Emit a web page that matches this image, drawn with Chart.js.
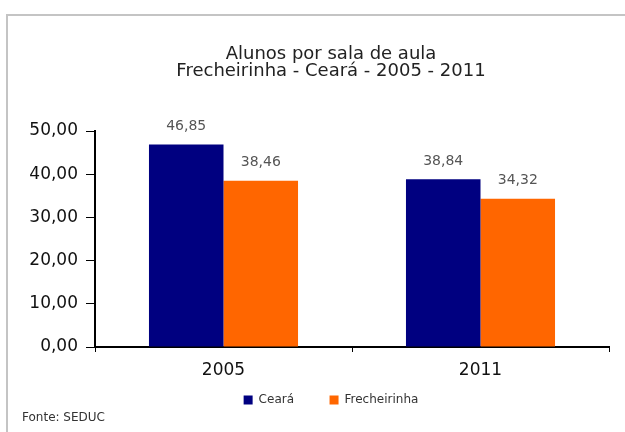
<!DOCTYPE html>
<html>
<head>
<meta charset="utf-8">
<script src="https://cdn.jsdelivr.net/npm/chart.js@4/dist/chart.umd.min.js"></script>
<style>
  html, body { margin: 0; padding: 0; background: #fff; overflow: hidden; }
  #wrap { position: relative; width: 625px; height: 432px; overflow: hidden; }
  #frame { position: absolute; left: 6px; top: 14px; width: 640px; height: 440px;
           border-left: 2px solid #c4c4c4; border-top: 2px solid #c4c4c4; }
  #chartBox { position: absolute; left: 0; top: 0; width: 636px; height: 432px; }
  #fonte { position: absolute; left: 22px; top: 410px; font: 12px "DejaVu Sans"; color: #333; }
</style>
</head>
<body>
<div id="wrap">
  <div id="frame"></div>
  <div id="chartBox"><canvas id="myChart"></canvas></div>
  <div id="fonte">Fonte: SEDUC</div>
</div>
<script>
const categories = ['2005', '2011'];
const ceara = [46.85, 38.84];
const frecheirinha = [38.46, 34.32];
const yTicks = [0, 10, 20, 30, 40, 50];

const fmt = v => v.toFixed(2).replace('.', ',');

// value labels above each bar
const barLabels = {
  id: 'barLabels',
  afterDatasetsDraw(chart) {
    const c = chart.ctx;
    c.save();
    c.font = '14px "DejaVu Sans"';
    c.fillStyle = '#555';
    c.textAlign = 'center';
    c.textBaseline = 'middle';
    chart.data.datasets.forEach((ds, i) => {
      chart.getDatasetMeta(i).data.forEach((bar, j) => {
        c.fillText(fmt(ds.data[j]), bar.x, bar.y - 18);
      });
    });
    c.restore();
  }
};

const ctx = document.getElementById('myChart');

new Chart(ctx, {
  type: 'bar',
  data: {
    labels: categories,
    datasets: [
      {
        label: 'Ceará',
        data: ceara,
        backgroundColor: '#000080',
        barPercentage: 1,
        categoryPercentage: 0.58
      },
      {
        label: 'Frecheirinha',
        data: frecheirinha,
        backgroundColor: '#FF6600',
        barPercentage: 1,
        categoryPercentage: 0.58
      }
    ]
  },
  options: {
    responsive: true,
    maintainAspectRatio: false,
    animation: false,
    layout: { padding: { left: 26, right: 0, top: 0, bottom: 16 } },
    scales: {
      x: {
        grid: { drawOnChartArea: false, tickLength: 5, color: '#000', lineWidth: 1 },
        border: { color: '#000', width: 2 },
        ticks: { color: '#111', padding: 10, font: { family: 'DejaVu Sans', size: 17, lineHeight: 1 } }
      },
      y: {
        min: 0,
        max: 50,
        afterBuildTicks: s => { s.ticks = yTicks.map(v => ({ value: v })); },
        afterFit: s => { s.width = 69; },
        grid: { drawOnChartArea: false, tickLength: 9, color: '#000', lineWidth: 1 },
        border: { color: '#000', width: 2 },
        ticks: {
          color: '#111',
          padding: 8,
          font: { family: 'DejaVu Sans', size: 17 },
          callback: v => fmt(v)
        }
      },
      // empty spacer on the right so title and legend sit where the original has them
      spacer: {
        type: 'linear',
        position: 'right',
        grid: { display: false },
        border: { display: false },
        ticks: { display: false },
        afterFit: s => { s.width = 27; }
      }
    },
    plugins: {
      title: {
        display: true,
        text: ['Alunos por sala de aula', 'Frecheirinha - Ceará - 2005 - 2011'],
        color: '#222',
        font: { family: 'DejaVu Sans', size: 18, weight: 'normal', lineHeight: '17px' },
        padding: { top: 46, bottom: 51 }
      },
      legend: {
        position: 'bottom',
        labels: {
          boxWidth: 9,
          boxHeight: 9,
          padding: 5,
          color: '#333',
          font: { family: 'DejaVu Sans', size: 12 },
          generateLabels: chart => {
            const items = Chart.defaults.plugins.legend.labels.generateLabels(chart);
            // wider gap after the first entry, as in the original legend
            items[0].text = items[0].text + '        ';
            return items;
          }
        }
      },
      tooltip: { enabled: false }
    }
  },
  plugins: [barLabels]
});
</script>
</body>
</html>
